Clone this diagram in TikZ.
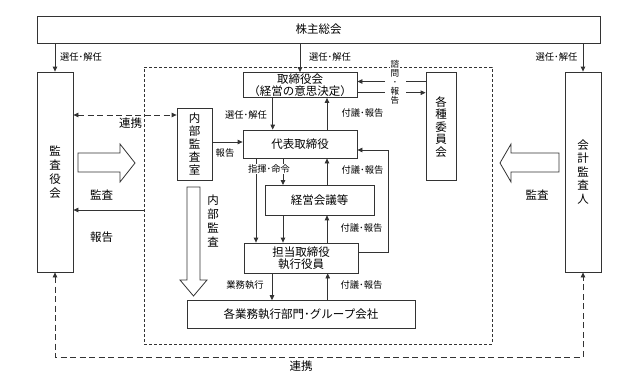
\documentclass[tikz,border=0pt]{standalone}
\usepackage{fontspec}
\setmainfont{Noto Sans CJK JP}
\newfontfamily\jp{Noto Sans CJK JP}
\usetikzlibrary{arrows.meta}
\tikzset{
  ln/.style={draw=black!80, line width=0.8pt},
  box/.style={ln, fill=white, inner sep=0pt, align=center, font=\jp\fontsize{11.5}{12.5}\selectfont},
  vbox/.style={box, font=\jp\fontsize{11.5}{13.5}\selectfont},
  lbl/.style={font=\jp\fontsize{9.3}{10}\selectfont, inner sep=1pt},
  big/.style={font=\jp\fontsize{11.5}{14}\selectfont, inner sep=1pt, align=center},
  arr/.style={ln, -{Triangle[length=5pt,width=4.5pt]}},
  dsh/.style={ln, dash pattern=on 3pt off 2pt},
  lnk/.style={ln, dash pattern=on 6pt off 3.5pt, {Triangle[length=5pt,width=4.5pt]}-{Triangle[length=5pt,width=4.5pt]}},
  hol/.style={ln, fill=white},
}
\begin{document}
\begin{tikzpicture}[x=1pt,y=-1pt]
\useasboundingbox (0,0) rectangle (635,388);

% group (dashed)
\node[dsh, minimum width=348pt, minimum height=277pt, inner sep=0pt] (grp) at (318,205.5) {};

% boxes
\node[box, minimum width=563pt, minimum height=27pt] (sh) at (318.5,29.5) {株主総会};
\node[vbox, font=\jp\fontsize{11.5}{14}\selectfont, minimum width=36pt, minimum height=200pt] (ka) at (55,172) {監\\査\\役\\会};
\node[vbox, minimum width=36pt, minimum height=200pt] (kai) at (583,172) {会\\計\\監\\査\\人};
\node[box, minimum width=114pt, minimum height=25pt] (tb) at (300,85) {取締役会\\（経営の意思決定）};
\node[box, minimum width=114pt, minimum height=28pt] (dh) at (300,144) {代表取締役};
\node[box, minimum width=109pt, minimum height=29.5pt] (kk) at (319.5,200.2) {経営会議等};
\node[box, minimum width=114pt, minimum height=30pt] (tt) at (301,258) {担当取締役\\執行役員};
\node[box, minimum width=228pt, minimum height=28pt] (bu) at (301,314.6) {各業務執行部門･グループ会社};
\node[vbox, font=\jp\fontsize{11.5}{13}\selectfont, minimum width=35pt, minimum height=72pt] (nai) at (194.5,144) {内\\部\\監\\査\\室};
\node[vbox, font=\jp\fontsize{11.5}{12.5}\selectfont, minimum width=30pt, minimum height=108pt] (iin) at (441,126.8) {各\\種\\委\\員\\会};

% helper coordinates
\coordinate (lk) at (125,115);
\coordinate (r1) at ([yshift=-4.5pt]grp.west);
\coordinate (n1) at ([yshift=2pt]nai.east);
\coordinate (q1) at ([yshift=5.5pt]tt.east);
\coordinate (q2) at ([yshift=-6pt]dh.east);
\coordinate (lp) at (388,0);
\coordinate (s1) at ([yshift=3.5pt]tb.east);
\coordinate (s2) at ([yshift=-7.7pt]tb.east);
\coordinate (g1) at (385,0);
\coordinate (g2) at (406,0);
\coordinate (b1) at (0,357);

% arrows from shareholders meeting
\draw[arr] (ka.north |- sh.south) -- (ka.north);
\draw[arr] (tb.north |- sh.south) -- (tb.north);
\draw[arr] (kai.north |- sh.south) -- (kai.north);
\node[lbl] at (81,57) {選任･解任};
\node[lbl] at (330,57) {選任･解任};
\node[lbl] at (556.5,57) {選任･解任};

% board <-> representative
\draw[arr] ([xshift=-27.3pt]tb.south) -- ([xshift=-27.3pt]dh.north);
\node[lbl] at (246,115) {選任･解任};
\draw[arr] ([xshift=27pt]dh.north) -- ([xshift=27pt]tb.south);
\node[lbl] at (362.5,113) {付議･報告};

% consult / report with committees
\draw[arr] (s1 -| g1) -- (s1);
\draw[ln] (s1 -| g2) -- (s1 -| iin.west);
\draw[ln] (s2) -- (s2 -| g1);
\draw[arr] (s2 -| g2) -- (s2 -| iin.west);
\node[lbl, font=\jp\fontsize{8.6}{9}\selectfont, fill=white, align=center, inner sep=1pt] at (395,82.5) {諮\\問\\･\\報\\告};

% internal audit office
\draw[lnk] (lk -| ka.east) -- (lk -| nai.west);
\node[big] at (130.5,123) {連携};
\draw[arr] (n1) -- (n1 -| dh.west);
\node[lbl] at (225,153) {報告};

% representative -> others
\draw[arr] ([xshift=-44pt]dh.south) -- ([xshift=-45pt]tt.north);
\draw[arr] ([xshift=-17pt]dh.south) -- ([xshift=-36.5pt]kk.north);
\node[lbl, fill=white] at (269,169) {指揮･命令};
\draw[arr] ([xshift=7.5pt]kk.north) -- ([xshift=27pt]dh.south);
\node[lbl] at (362.5,170) {付議･報告};
\draw[arr] ([xshift=-36.5pt]kk.south) -- ([xshift=-18pt]tt.north);
\draw[arr] ([xshift=26pt]tt.north) -- ([xshift=7.5pt]kk.south);
\node[lbl] at (361.5,228) {付議･報告};
\draw[arr] (q1) -| (lp |- q2) -- (q2);

% executive -> departments
\draw[arr] ([xshift=-29pt]tt.south) -- ([xshift=-29pt]bu.north);
\node[lbl] at (245,285) {業務執行};
\draw[arr] ([xshift=26.7pt]bu.north) -- ([xshift=26.7pt]tt.south);
\node[lbl] at (361.5,285) {付議･報告};

% audit board side
\draw[hol] (78,153) -- (120,153) -- (120,144) -- (135,163) -- (120,182) -- (120,172) -- (78,172) -- cycle;
\node[big] at (101.5,195) {監査};
\draw[arr] (r1) -- (r1 -| ka.east);
\node[big] at (101.5,237) {報告};

% accounting auditor side
\draw[hol] (559,153) -- (511,153) -- (511,144) -- (500,163) -- (511,182) -- (511,172) -- (559,172) -- cycle;
\node[big] at (537,195) {監査};

% internal audit arrow
\draw[hol] (187,187) -- (200,187) -- (200,280) -- (207,280) -- (193.5,296) -- (180,280) -- (187,280) -- cycle;
\node[big, font=\jp\fontsize{11.5}{14}\selectfont] at (213,221) {内\\部\\監\\査};

% bottom cooperation
\draw[lnk] (ka.south) -- (ka.south |- b1) -- (kai.south |- b1) -- (kai.south);
\node[big] at (301,366) {連携};
\end{tikzpicture}
\end{document}
